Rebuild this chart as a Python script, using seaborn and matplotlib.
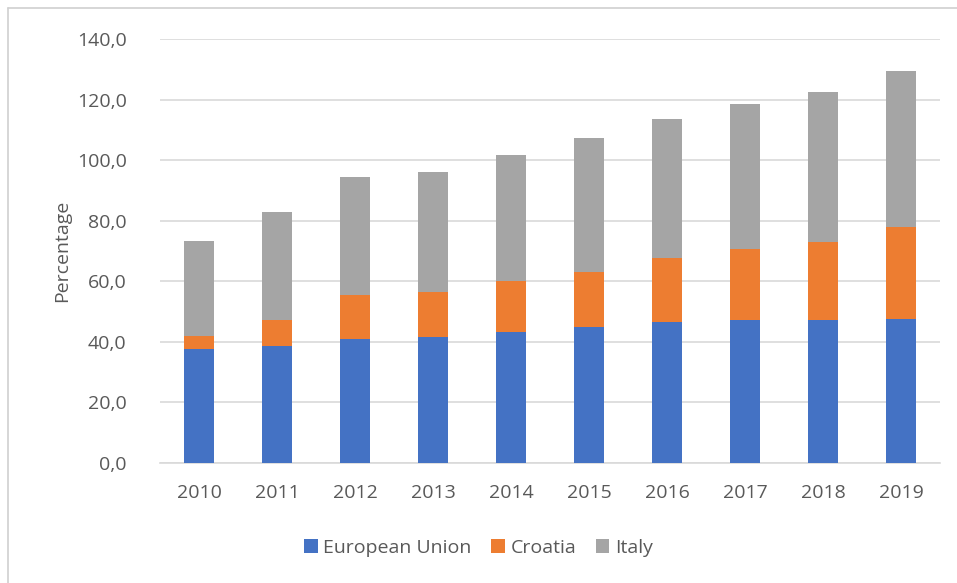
import matplotlib
matplotlib.use("Agg")
import matplotlib.pyplot as plt
import seaborn as sns
import numpy as np
import pandas as pd
from matplotlib.ticker import FuncFormatter, MultipleLocator
from matplotlib.lines import Line2D
from matplotlib.patches import Patch

years = ["2010", "2011", "2012", "2013", "2014", "2015", "2016", "2017", "2018", "2019"]
european_union = [37.8, 38.5, 40.8, 41.5, 43.4, 44.8, 46.7, 47.1, 47.1, 47.4]
croatia = [4.0, 8.6, 14.6, 14.9, 16.6, 18.2, 21.0, 23.5, 25.8, 30.5]
italy = [31.5, 35.8, 39.1, 39.8, 41.7, 44.4, 46.0, 48.1, 49.5, 51.6]
series_names = ["European Union", "Croatia", "Italy"]
colors = ["#4472C4", "#ED7D31", "#A5A5A5"]

sns.set_theme(style="white")
plt.rcParams['font.family'] = ['Open Sans', 'DejaVu Sans']

fig = plt.figure(figsize=(9.57, 5.83), dpi=100)
ax = fig.add_axes([160/957, 1-463/583, 780/957, (463-39)/583])

eu = np.array(european_union)
cr = np.array(croatia)
it = np.array(italy)
df = pd.DataFrame({"year": years, "eu": eu, "cr": cr, "it": it})

common = dict(width=0.38, ax=ax, saturation=1, zorder=3, edgecolor="none", linewidth=0)
sns.barplot(data=df, x="year", y="eu", color=colors[0], **common)
sns.barplot(data=df, x="year", y="cr", color=colors[1], bottom=eu, **common)
sns.barplot(data=df, x="year", y="it", color=colors[2], bottom=eu + cr, **common)

ax.set_ylim(0, 140)
ax.set_xlim(-0.5, 9.5)
ax.yaxis.set_major_locator(MultipleLocator(20))
ax.yaxis.set_major_formatter(FuncFormatter(lambda v, p: f"{v:.1f}".replace(".", ",")))
ax.grid(axis="y", color="#D9D9D9", linewidth=1.2, zorder=0)
ax.set_axisbelow(True)
for s in ["top", "right", "left"]:
    ax.spines[s].set_visible(False)
ax.spines["bottom"].set_color("#D9D9D9")
ax.spines["bottom"].set_linewidth(1.2)
ax.tick_params(axis="both", length=0, labelsize=14, colors="#595959")
ax.tick_params(axis="x", pad=15)
ax.tick_params(axis="y", pad=24)
ax.set_xlabel("")
ax.set_ylabel("Percentage", fontsize=14, color="#595959", labelpad=4)

handles = [Patch(facecolor=c, edgecolor="none") for c in colors]
fig.legend(handles, series_names, loc="center", bbox_to_anchor=(0.5, 1-548/583),
           ncol=3, frameon=False, fontsize=14, handlelength=0.7, handleheight=0.7,
           handletextpad=0.3, columnspacing=1.0, labelcolor="#595959")

# outer frame
fig.add_artist(Line2D([8/957, 1.0], [1-8/583, 1-8/583], color="#D0D0D0", lw=1.2, transform=fig.transFigure))
fig.add_artist(Line2D([8/957, 8/957], [0.0, 1-8/583], color="#D0D0D0", lw=1.2, transform=fig.transFigure))

fig.savefig("out.png", dpi=100, facecolor="white")
